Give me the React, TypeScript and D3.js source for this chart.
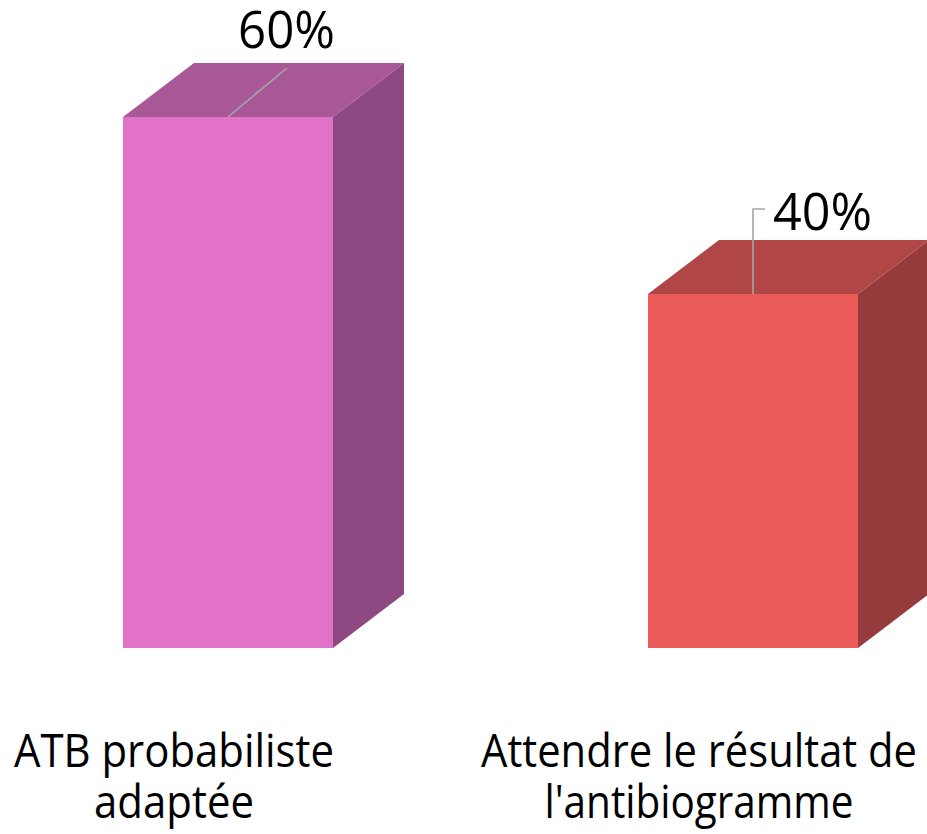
import React from "react";
import * as d3 from "d3";

// Chart data
const categories = ["ATB probabiliste adaptée", "Attendre le résultat de l'antibiogramme"];
const categoryLines = [["ATB probabiliste", "adaptée"], ["Attendre le résultat de", "l'antibiogramme"]];
const values = [60, 40];
const valueLabels = ["60%", "40%"];

// Face colours per bar: front, top, side
const faceColors = [
  { front: "#E271C8", top: "#A85797", side: "#8F4982" },
  { front: "#EB5B5A", top: "#B04646", side: "#963B3B" },
];

const W = 927;
const H = 834;
const DEPTH_X = 71;
const DEPTH_Y = 54;
const FONT = "'Open Sans', 'Noto Sans', sans-serif";

// Leader-line / label placement for each data label (relative to bar front-top centre)
const labelLayout = [
  { kind: "diag", lx: 10, ly: -69, width: 97, lineEnd: [59, -49] },
  { kind: "elbow", lx: 20, ly: -64, width: 99, lineEnd: [12, -85] },
];
const categoryTextWidths = [[320, 160], [436, 309]];

export default function App() {
  const x = d3.scaleBand<string>().domain(categories).range([123, 858]).paddingInner(0.6);
  const y = d3.scaleLinear().domain([0, 60]).range([648, 117]);
  const bw = x.bandwidth();

  return (
    <svg width={W} height={H} style={{ position: "absolute", left: 0, top: 0, background: "#fff" }}>
      {categories.map((c, i) => {
        const x0 = x(c)!;
        const x1 = x0 + bw;
        const yt = y(values[i]);
        const yb = y(0);
        const col = faceColors[i];
        const cx = x0 + bw / 2;
        const lay = labelLayout[i];
        const top = `M${x0},${yt}L${x1},${yt}L${x1 + DEPTH_X},${yt - DEPTH_Y}L${x0 + DEPTH_X},${yt - DEPTH_Y}Z`;
        const side = `M${x1},${yt}L${x1 + DEPTH_X},${yt - DEPTH_Y}L${x1 + DEPTH_X},${yb - DEPTH_Y}L${x1},${yb}Z`;
        const leader =
          lay.kind === "diag"
            ? `M${cx},${yt}L${cx + lay.lineEnd[0]},${yt + lay.lineEnd[1]}`
            : `M${cx},${yt}L${cx},${yt + lay.lineEnd[1]}L${cx + lay.lineEnd[0]},${yt + lay.lineEnd[1]}`;
        return (
          <g key={c}>
            <path d={side} fill={col.side} />
            <path d={top} fill={col.top} />
            <rect x={x0} y={yt} width={bw} height={yb - yt} fill={col.front} />
            <path d={leader} fill="none" stroke="#A6A6A6" strokeWidth={1.6} />
            <text
              x={cx + lay.lx}
              y={yt + lay.ly}
              fontFamily={FONT}
              fontSize={51}
              fill="#000"
              textLength={lay.width}
              lengthAdjust="spacingAndGlyphs"
            >
              {valueLabels[i]}
            </text>
            {categoryLines[i].map((line, j) => (
              <text
                key={j}
                x={cx - 54}
                y={767 + j * 51}
                textAnchor="middle"
                fontFamily={FONT}
                fontSize={45}
                fill="#000"
                textLength={categoryTextWidths[i][j]}
                lengthAdjust="spacingAndGlyphs"
              >
                {line}
              </text>
            ))}
          </g>
        );
      })}
    </svg>
  );
}
